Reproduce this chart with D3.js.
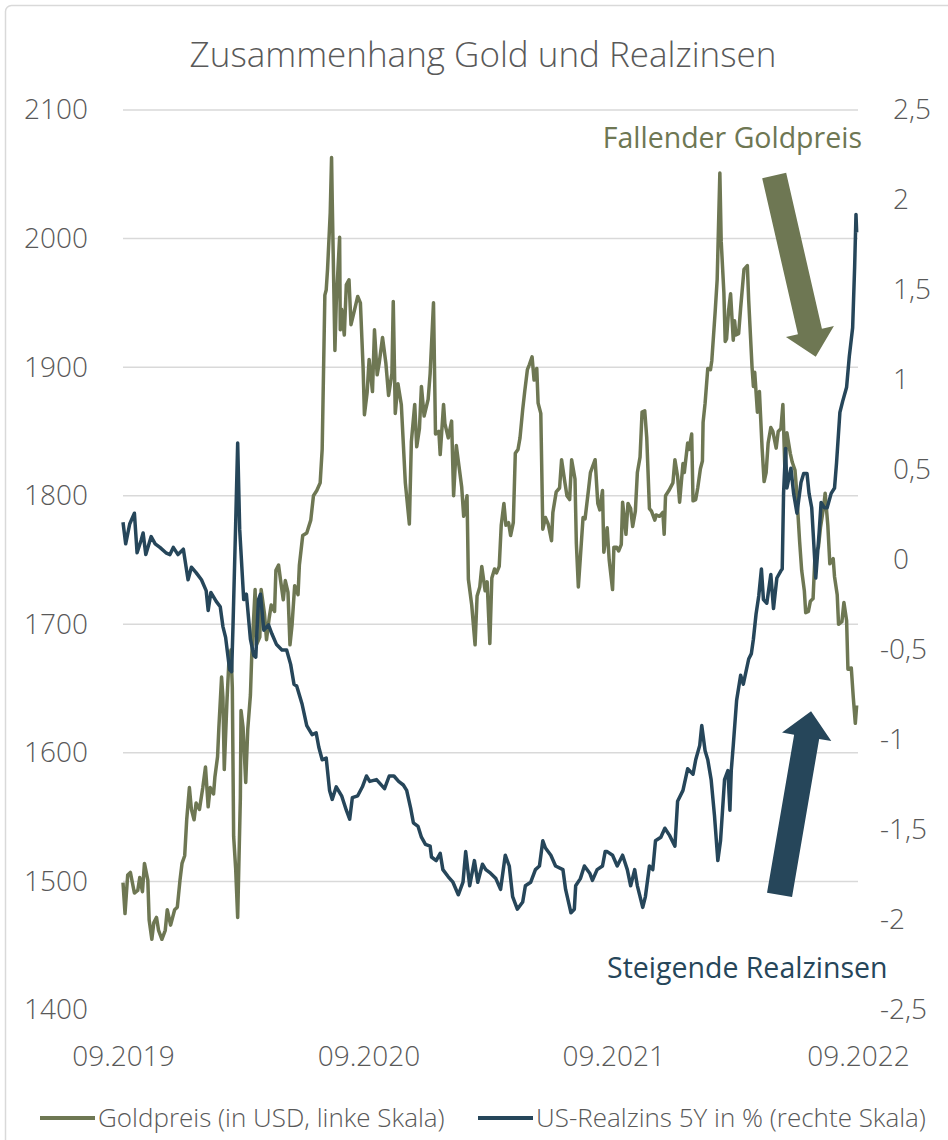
<!DOCTYPE html>
<html>
<head>
<meta charset="utf-8">
<script src="https://cdn.jsdelivr.net/npm/d3@7"></script>
<style>
  body { margin: 0; background: #fff; }
  svg text { font-family: "Open Sans", sans-serif; font-weight: 300; fill: #595959; }
</style>
</head>
<body>
<svg id="chart" width="948" height="1140"></svg>
<script>
const goldDates = [
  "2019-09-30","2019-10-03","2019-10-07","2019-10-11","2019-10-17","2019-10-22","2019-10-25","2019-10-29",
  "2019-11-01","2019-11-06","2019-11-08","2019-11-12","2019-11-15","2019-11-19","2019-11-22","2019-11-27",
  "2019-12-02","2019-12-05","2019-12-10","2019-12-16","2019-12-20","2019-12-24","2019-12-27","2019-12-31",
  "2020-01-03","2020-01-07","2020-01-10","2020-01-14","2020-01-17","2020-01-22","2020-01-27","2020-01-31",
  "2020-02-04","2020-02-07","2020-02-12","2020-02-14","2020-02-18","2020-02-20","2020-02-24","2020-02-26",
  "2020-02-28","2020-03-03","2020-03-06","2020-03-09","2020-03-11","2020-03-13","2020-03-16","2020-03-19",
  "2020-03-23","2020-03-24","2020-03-27","2020-03-31","2020-04-03","2020-04-07","2020-04-09","2020-04-14",
  "2020-04-16","2020-04-21","2020-04-23","2020-04-28","2020-05-01","2020-05-05","2020-05-08","2020-05-13",
  "2020-05-15","2020-05-19","2020-05-22","2020-05-26","2020-05-29","2020-06-02","2020-06-05","2020-06-08",
  "2020-06-12","2020-06-17","2020-06-19","2020-06-24","2020-06-30","2020-07-06","2020-07-10","2020-07-15",
  "2020-07-20","2020-07-23","2020-07-27","2020-07-29","2020-07-31","2020-08-04","2020-08-06","2020-08-07",
  "2020-08-11","2020-08-13","2020-08-18","2020-08-19","2020-08-21","2020-08-25","2020-08-28","2020-09-01",
  "2020-09-04","2020-09-09","2020-09-14","2020-09-18","2020-09-22","2020-09-24","2020-09-28","2020-10-01",
  "2020-10-06","2020-10-09","2020-10-13","2020-10-16","2020-10-21","2020-10-26","2020-10-30","2020-11-04",
  "2020-11-06","2020-11-09","2020-11-13","2020-11-18","2020-11-24","2020-11-30","2020-12-03","2020-12-08",
  "2020-12-11","2020-12-15","2020-12-18","2020-12-22","2020-12-28","2020-12-31","2021-01-05","2021-01-08",
  "2021-01-13","2021-01-15","2021-01-20","2021-01-22","2021-01-27","2021-02-01","2021-02-04","2021-02-08",
  "2021-02-12","2021-02-16","2021-02-19","2021-02-24","2021-02-26","2021-03-03","2021-03-08","2021-03-11",
  "2021-03-15","2021-03-18","2021-03-23","2021-03-26","2021-03-30","2021-04-02","2021-04-06","2021-04-09",
  "2021-04-13","2021-04-16","2021-04-20","2021-04-23","2021-04-27","2021-04-30","2021-05-04","2021-05-07",
  "2021-05-11","2021-05-14","2021-05-18","2021-05-21","2021-05-25","2021-05-28","2021-06-01","2021-06-04",
  "2021-06-08","2021-06-10","2021-06-14","2021-06-17","2021-06-21","2021-06-25","2021-06-30","2021-07-02",
  "2021-07-07","2021-07-12","2021-07-15","2021-07-20","2021-07-23","2021-07-27","2021-07-30","2021-08-04",
  "2021-08-06","2021-08-09","2021-08-12","2021-08-16","2021-08-19","2021-08-24","2021-08-27","2021-09-03",
  "2021-09-07","2021-09-10","2021-09-14","2021-09-16","2021-09-21","2021-09-24","2021-09-29","2021-10-01",
  "2021-10-05","2021-10-08","2021-10-12","2021-10-14","2021-10-19","2021-10-22","2021-10-26","2021-10-29",
  "2021-11-02","2021-11-05","2021-11-09","2021-11-12","2021-11-16","2021-11-19","2021-11-23","2021-11-26",
  "2021-12-01","2021-12-03","2021-12-08","2021-12-13","2021-12-15","2021-12-17","2021-12-22","2021-12-28",
  "2021-12-31","2022-01-04","2022-01-07","2022-01-12","2022-01-14","2022-01-19","2022-01-21","2022-01-25",
  "2022-01-27","2022-01-31","2022-02-03","2022-02-07","2022-02-10","2022-02-11","2022-02-14","2022-02-18",
  "2022-02-22","2022-02-24","2022-03-01","2022-03-04","2022-03-08","2022-03-10","2022-03-14","2022-03-16",
  "2022-03-18","2022-03-21","2022-03-24","2022-03-28","2022-03-30","2022-04-01","2022-04-05","2022-04-08",
  "2022-04-13","2022-04-18","2022-04-20","2022-04-25","2022-04-27","2022-04-29","2022-05-03","2022-05-06",
  "2022-05-10","2022-05-13","2022-05-16","2022-05-19","2022-05-23","2022-05-26","2022-05-31","2022-06-03",
  "2022-06-07","2022-06-10","2022-06-13","2022-06-16","2022-06-21","2022-06-24","2022-06-28","2022-06-30",
  "2022-07-05","2022-07-08","2022-07-12","2022-07-14","2022-07-18","2022-07-21","2022-07-25","2022-07-28",
  "2022-08-02","2022-08-05","2022-08-10","2022-08-12","2022-08-16","2022-08-19","2022-08-24","2022-08-26",
  "2022-08-30","2022-09-01","2022-09-06","2022-09-09","2022-09-13","2022-09-15","2022-09-20","2022-09-23",
  "2022-09-26","2022-09-28"
];
const goldPrice = [
  1499,1475,1505,1507,1491,1493,1503,1492,
  1514,1501,1470,1455,1468,1472,1462,1455,
  1462,1478,1466,1478,1480,1501,1514,1520,
  1548,1573,1556,1548,1561,1556,1573,1589,
  1558,1573,1568,1581,1597,1620,1659,1643,
  1587,1640,1672,1680,1651,1535,1510,1472,
  1565,1633,1620,1577,1618,1645,1676,1727,
  1684,1690,1727,1708,1688,1705,1715,1710,
  1742,1746,1734,1719,1734,1725,1684,1699,
  1730,1723,1746,1769,1771,1781,1800,1804,
  1810,1836,1956,1960,1976,2020,2063,2030,
  1913,1950,2001,1929,1945,1925,1964,1968,
  1933,1944,1955,1950,1900,1863,1880,1906,
  1881,1929,1894,1903,1923,1903,1878,1895,
  1951,1864,1887,1871,1810,1778,1842,1871,
  1838,1852,1885,1862,1875,1895,1950,1848,
  1850,1832,1871,1856,1845,1858,1800,1839,
  1823,1807,1784,1800,1735,1715,1684,1722,
  1729,1745,1726,1733,1685,1736,1743,1740,
  1745,1777,1794,1777,1779,1769,1779,1833,
  1836,1845,1867,1881,1898,1902,1908,1890,
  1899,1872,1864,1774,1783,1778,1765,1787,
  1803,1806,1828,1810,1800,1797,1828,1813,
  1763,1729,1752,1783,1782,1804,1818,1828,
  1794,1789,1804,1756,1775,1750,1727,1760,
  1760,1757,1762,1795,1770,1794,1790,1776,
  1788,1818,1830,1865,1866,1845,1790,1788,
  1781,1785,1784,1787,1770,1800,1804,1810,
  1828,1815,1795,1825,1818,1841,1836,1848,
  1796,1797,1806,1821,1827,1857,1872,1899,
  1898,1905,1943,1968,2051,1998,1958,1920,
  1922,1944,1957,1921,1936,1925,1926,1946,
  1976,1979,1952,1900,1885,1896,1865,1881,
  1837,1811,1818,1841,1853,1850,1837,1850,
  1852,1871,1820,1849,1833,1826,1820,1807,
  1764,1742,1726,1709,1710,1718,1720,1755,
  1760,1775,1792,1802,1777,1747,1751,1737,
  1723,1700,1702,1717,1703,1665,1666,1643,
  1623,1637
];

const rateDates = [
  "2019-09-30","2019-10-04","2019-10-10","2019-10-17","2019-10-21","2019-10-27","2019-10-30","2019-11-03",
  "2019-11-11","2019-11-17","2019-11-24","2019-12-03","2019-12-09","2019-12-14","2019-12-21","2019-12-29",
  "2020-01-05","2020-01-10","2020-01-17","2020-01-25","2020-02-01","2020-02-04","2020-02-08","2020-02-16",
  "2020-02-22","2020-02-26","2020-03-01","2020-03-07","2020-03-10","2020-03-12","2020-03-16","2020-03-19",
  "2020-03-22","2020-03-28","2020-04-01","2020-04-07","2020-04-12","2020-04-15","2020-04-19","2020-04-22",
  "2020-04-27","2020-05-04","2020-05-09","2020-05-16","2020-05-24","2020-05-31","2020-06-06","2020-06-11",
  "2020-06-15","2020-06-23","2020-06-30","2020-07-08","2020-07-14","2020-07-18","2020-07-23","2020-07-29",
  "2020-08-03","2020-08-07","2020-08-13","2020-08-21","2020-08-28","2020-09-02","2020-09-06","2020-09-14",
  "2020-09-21","2020-09-27","2020-10-02","2020-10-12","2020-10-24","2020-10-31","2020-11-07","2020-11-14",
  "2020-11-21","2020-11-26","2020-12-02","2020-12-06","2020-12-13","2020-12-18","2020-12-24","2020-12-31",
  "2021-01-02","2021-01-09","2021-01-15","2021-01-19","2021-01-27","2021-02-03","2021-02-11","2021-02-18",
  "2021-02-22","2021-02-28","2021-03-07","2021-03-12","2021-03-19","2021-03-24","2021-03-31","2021-04-08",
  "2021-04-15","2021-04-22","2021-04-28","2021-05-03","2021-05-10","2021-05-18","2021-05-22","2021-05-30",
  "2021-06-06","2021-06-12","2021-06-17","2021-06-21","2021-06-29","2021-07-06","2021-07-17","2021-07-21",
  "2021-07-29","2021-08-03","2021-08-05","2021-08-12","2021-08-18","2021-08-26","2021-08-30","2021-09-06",
  "2021-09-14","2021-09-18","2021-09-21","2021-09-29","2021-10-06","2021-10-14","2021-10-21","2021-10-26",
  "2021-11-01","2021-11-05","2021-11-13","2021-11-17","2021-11-23","2021-11-28","2021-12-02","2021-12-10",
  "2021-12-16","2021-12-23","2021-12-31","2022-01-04","2022-01-12","2022-01-19","2022-01-27","2022-01-31",
  "2022-02-06","2022-02-09","2022-02-14","2022-02-18","2022-02-23","2022-02-28","2022-03-05","2022-03-09",
  "2022-03-15","2022-03-20","2022-03-23","2022-03-25","2022-03-28","2022-04-02","2022-04-08","2022-04-12",
  "2022-04-20","2022-04-24","2022-04-27","2022-05-01","2022-05-05","2022-05-09","2022-05-12","2022-05-17",
  "2022-05-23","2022-05-27","2022-06-01","2022-06-07","2022-06-09","2022-06-11","2022-06-14","2022-06-16",
  "2022-06-22","2022-06-26","2022-07-01","2022-07-07","2022-07-11","2022-07-16","2022-07-19","2022-07-23",
  "2022-07-29","2022-08-03","2022-08-06","2022-08-11","2022-08-15","2022-08-21","2022-08-26","2022-08-29",
  "2022-09-03","2022-09-07","2022-09-13","2022-09-17","2022-09-22","2022-09-25","2022-09-27","2022-09-28"
];
const realRate = [
  0.21,0.09,0.20,0.26,0.04,0.11,0.15,0.03,
  0.13,0.09,0.07,0.04,0.03,0.07,0.03,0.06,
  -0.11,-0.04,-0.07,-0.11,-0.17,-0.28,-0.18,-0.23,
  -0.26,-0.37,-0.43,-0.61,-0.62,-0.37,0.20,0.65,
  0.17,-0.22,-0.19,-0.44,-0.53,-0.54,-0.22,-0.19,
  -0.39,-0.36,-0.41,-0.47,-0.50,-0.50,-0.58,-0.69,
  -0.70,-0.80,-0.92,-0.97,-0.96,-1.04,-1.11,-1.10,
  -1.28,-1.33,-1.26,-1.31,-1.39,-1.44,-1.32,-1.31,
  -1.26,-1.20,-1.23,-1.22,-1.27,-1.20,-1.20,-1.23,
  -1.25,-1.28,-1.38,-1.46,-1.48,-1.54,-1.58,-1.59,
  -1.65,-1.67,-1.63,-1.72,-1.76,-1.79,-1.86,-1.79,
  -1.62,-1.81,-1.67,-1.79,-1.69,-1.72,-1.74,-1.77,
  -1.83,-1.64,-1.70,-1.87,-1.94,-1.90,-1.81,-1.79,
  -1.72,-1.70,-1.56,-1.60,-1.64,-1.70,-1.72,-1.83,
  -1.96,-1.94,-1.81,-1.77,-1.70,-1.74,-1.78,-1.72,
  -1.70,-1.62,-1.62,-1.64,-1.70,-1.64,-1.72,-1.81,
  -1.72,-1.81,-1.93,-1.87,-1.70,-1.72,-1.56,-1.54,
  -1.49,-1.53,-1.59,-1.34,-1.28,-1.16,-1.19,-1.11,
  -1.03,-0.92,-1.06,-1.11,-1.22,-1.42,-1.67,-1.56,
  -1.22,-1.17,-1.39,-1.17,-1.03,-0.78,-0.64,-0.69,
  -0.55,-0.52,-0.44,-0.30,-0.20,-0.05,-0.22,-0.24,
  -0.08,-0.27,-0.10,-0.06,-0.05,0.37,0.62,0.40,
  0.51,0.37,0.26,0.43,0.48,0.48,0.37,0.29,
  -0.10,0.15,0.32,0.29,0.29,0.37,0.40,0.54,
  0.82,0.88,0.96,1.13,1.29,1.63,1.92,1.82
];

const leftTicks = [1400, 1500, 1600, 1700, 1800, 1900, 2000, 2100];
const rightTicks = [-2.5, -2, -1.5, -1, -0.5, 0, 0.5, 1, 1.5, 2, 2.5];
const xTickDates = ["2019-09-30", "2020-09-30", "2021-09-30", "2022-09-30"];

const titleText = "Zusammenhang Gold und Realzinsen";
const goldLabel = "Goldpreis (in USD, linke Skala)";
const rateLabel = "US-Realzins 5Y in % (rechte Skala)";
const goldNote = "Fallender Goldpreis";
const rateNote = "Steigende Realzinsen";

// arrows, anchored in data space (tail -> tip)
const goldArrow = { from: ["2022-05-28", 2049], to: ["2022-07-29", 1908] };
const rateArrow = { from: ["2022-06-05", -1.86], to: ["2022-07-22", -0.84] };

const goldColor = "#6e7753";
const rateColor = "#26465a";

const parse = d3.timeParse("%Y-%m-%d");
const svg = d3.select("#chart");

const plot = { left: 123, right: 858, top: 110, bottom: 1010 };

const x = d3.scaleTime()
  .domain([parse("2019-09-30"), parse("2022-09-30")])
  .range([plot.left, plot.right]);
const yGold = d3.scaleLinear().domain([1400, 2100]).range([plot.bottom, plot.top]);
const yRate = d3.scaleLinear().domain([-2.5, 2.5]).range([plot.bottom, plot.top]);

const deLocale = d3.formatLocale({ decimal: ",", thousands: ".", grouping: [3], currency: ["", ""], minus: "-" });
const rateFmt = deLocale.format("~g");

// frame
svg.append("rect")
  .attr("x", 5.5).attr("y", 5.5)
  .attr("width", 960).attr("height", 1160)
  .attr("rx", 6)
  .attr("fill", "none")
  .attr("stroke", "#d9d9d9")
  .attr("stroke-width", 1.5);

svg.append("text")
  .attr("x", 483).attr("y", 67)
  .attr("text-anchor", "middle")
  .style("font-size", "35px")
  .text(titleText);

// grid
svg.append("g")
  .selectAll("line")
  .data(leftTicks.filter((d) => d > 1400))
  .join("line")
  .attr("x1", plot.left).attr("x2", plot.right)
  .attr("y1", (d) => yGold(d)).attr("y2", (d) => yGold(d))
  .attr("stroke", "#d9d9d9")
  .attr("stroke-width", 1.5);

// axes
const leftAxis = svg.append("g")
  .attr("transform", `translate(${plot.left},0)`)
  .call(d3.axisLeft(yGold).tickValues(leftTicks).tickSize(0).tickPadding(35).tickFormat(d3.format("d")));
const rightAxis = svg.append("g")
  .attr("transform", `translate(${plot.right},0)`)
  .call(d3.axisRight(yRate).tickValues(rightTicks).tickSize(0).tickPadding(35).tickFormat(rateFmt));
rightAxis.selectAll(".tick text").attr("x", (d) => (d < 0 ? 22 : 35));
const bottomAxis = svg.append("g")
  .attr("transform", `translate(0,${plot.bottom})`)
  .call(d3.axisBottom(x).tickValues(xTickDates.map(parse)).tickSize(0).tickPadding(36).tickFormat(d3.timeFormat("%m.%Y")));

[leftAxis, rightAxis, bottomAxis].forEach((g) => {
  g.select(".domain").remove();
  g.selectAll(".tick text")
    .attr("fill", null)
    .style("font-size", "28px")
    .style("font-family", "'Open Sans', sans-serif");
});

// series
const goldSeries = goldDates.map((d, i) => ({ date: parse(d), value: goldPrice[i] }));
const rateSeries = rateDates.map((d, i) => ({ date: parse(d), value: realRate[i] }));

svg.append("path")
  .datum(goldSeries)
  .attr("fill", "none")
  .attr("stroke", goldColor)
  .attr("stroke-width", 3.5)
  .attr("stroke-linejoin", "round")
  .attr("d", d3.line().x((d) => x(d.date)).y((d) => yGold(d.value)));

svg.append("path")
  .datum(rateSeries)
  .attr("fill", "none")
  .attr("stroke", rateColor)
  .attr("stroke-width", 3.5)
  .attr("stroke-linejoin", "round")
  .attr("d", d3.line().x((d) => x(d.date)).y((d) => yRate(d.value)));

function arrowPoints(x0, y0, x1, y1, shaftHalf, headHalf, headLen) {
  const dx = x1 - x0, dy = y1 - y0;
  const len = Math.hypot(dx, dy);
  const ux = dx / len, uy = dy / len;
  const nx = -uy, ny = ux;
  const bx = x1 - ux * headLen, by = y1 - uy * headLen;
  return [
    [x0 + nx * shaftHalf, y0 + ny * shaftHalf],
    [bx + nx * shaftHalf, by + ny * shaftHalf],
    [bx + nx * headHalf, by + ny * headHalf],
    [x1, y1],
    [bx - nx * headHalf, by - ny * headHalf],
    [bx - nx * shaftHalf, by - ny * shaftHalf],
    [x0 - nx * shaftHalf, y0 - ny * shaftHalf],
  ];
}

const gA = arrowPoints(
  x(parse(goldArrow.from[0])), yGold(goldArrow.from[1]),
  x(parse(goldArrow.to[0])), yGold(goldArrow.to[1]), 12.3, 24.6, 26);
svg.append("polygon").attr("points", gA.join(" ")).attr("fill", goldColor);

const rA = arrowPoints(
  x(parse(rateArrow.from[0])), yRate(rateArrow.from[1]),
  x(parse(rateArrow.to[0])), yRate(rateArrow.to[1]), 12.7, 25, 26);
svg.append("polygon").attr("points", rA.join(" ")).attr("fill", rateColor);

svg.append("text")
  .attr("x", 862).attr("y", 148)
  .attr("text-anchor", "end")
  .style("font-size", "28.5px")
  .style("fill", goldColor)
  .style("font-weight", 400)
  .text(goldNote);

svg.append("text")
  .attr("x", 607).attr("y", 978)
  .style("font-size", "28.5px")
  .style("fill", rateColor)
  .style("font-weight", 400)
  .text(rateNote);

// legend
const legend = svg.append("g").attr("transform", "translate(0,1118)");
const legendItems = [
  { label: goldLabel, color: goldColor, x: 40 },
  { label: rateLabel, color: rateColor, x: 478 },
];
legendItems.forEach((item) => {
  legend.append("line")
    .attr("x1", item.x).attr("x2", item.x + 55)
    .attr("stroke", item.color)
    .attr("stroke-width", 4);
  legend.append("text")
    .attr("x", item.x + 58)
    .attr("dy", "0.35em")
    .style("font-size", "26px")
    .text(item.label);
});
</script>
</body>
</html>
